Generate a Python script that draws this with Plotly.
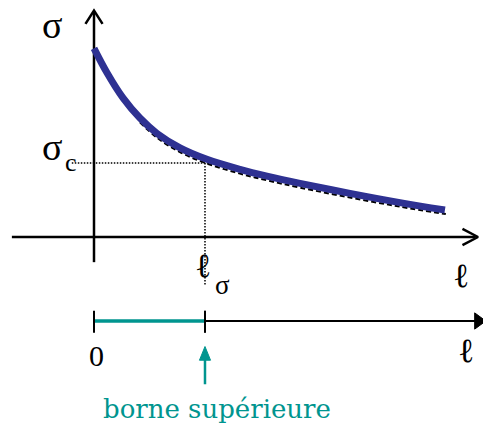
import plotly.graph_objects as go

# ---- data (units: length in multiples of l_sigma, stress in multiples of sigma_c) ----
ell = [0.0, 0.117, 0.261, 0.414, 0.568, 0.775, 1.018, 1.315, 1.568, 1.856, 2.306, 2.757, 3.162]
sigma = [2.55, 2.22, 1.88, 1.608, 1.40, 1.205, 1.05, 0.915, 0.82, 0.725, 0.59, 0.465, 0.365]

ell_asym = [0.414, 0.568, 0.775, 1.018, 1.315, 1.568, 1.856, 2.306, 2.757, 3.17]
sigma_asym = [1.55, 1.342, 1.147, 0.993, 0.857, 0.763, 0.668, 0.534, 0.41, 0.31]

ell_sigma = 1.0
sigma_c = 1.0
upper_bound = [0.0, ell_sigma]  # interval [0, l_sigma]

BLUE = "#2e3192"
TEAL = "#00958f"
FONT = "Liberation Serif"
SCRIPT = "DejaVu Serif"

fig = go.Figure()

def line(xs, ys, color="black", width=2.5, dash=None, shape="linear"):
    fig.add_trace(go.Scatter(x=xs, y=ys, mode="lines", hoverinfo="skip",
                             line=dict(color=color, width=width, dash=dash, shape=shape),
                             showlegend=False))

# axes of the upper chart
line([0, 0], [-0.34, 3.05])
line([-0.74, 3.44], [0, 0])
# chevron heads
line([-0.077, 0, 0.077], [2.88, 3.06, 2.88])
line([3.32, 3.46, 3.32], [0.11, 0, -0.11])

# dotted guides
line([-0.2, 1.12], [sigma_c, sigma_c], width=1.5, dash="1.5px,1.5px")
line([ell_sigma, ell_sigma], [sigma_c, -0.65], width=1.5, dash="1.5px,1.5px")

# curves
line(ell_asym, sigma_asym, color="black", width=2, dash="5px,3px", shape="spline")
line(ell, sigma, color=BLUE, width=7, shape="spline")

# lower number line
y_nl = -1.135
line([0.01, 3.46], [y_nl, y_nl], width=2.2)
fig.add_trace(go.Scatter(x=[3.43, 3.53, 3.43, 3.43], y=[y_nl + 0.11, y_nl, y_nl - 0.11, y_nl + 0.11],
                         mode="lines", fill="toself", fillcolor="black",
                         line=dict(color="black", width=1), hoverinfo="skip", showlegend=False))
line(upper_bound, [y_nl, y_nl], color=TEAL, width=3.5)
for xv in upper_bound:
    line([xv, xv], [y_nl + 0.14, y_nl - 0.16], width=2)

# teal arrow (upper bound marker)
line([ell_sigma, ell_sigma], [-1.99, -1.64], color=TEAL, width=2.5)
fig.add_trace(go.Scatter(x=[ell_sigma - 0.05, ell_sigma, ell_sigma + 0.05, ell_sigma - 0.05],
                         y=[-1.665, -1.48, -1.665, -1.665],
                         mode="lines", fill="toself", fillcolor=TEAL,
                         line=dict(color=TEAL, width=1), hoverinfo="skip", showlegend=False))

def text(x, y, s, size, color="black", family=FONT):
    fig.add_annotation(x=x, y=y, xref="x", yref="y", text=s, showarrow=False,
                       xanchor="center", yanchor="middle",
                       font=dict(family=family, size=size, color=color))

text(-0.378, 2.87, "σ", 38)
text(-0.378, 1.21, "σ", 38)
text(-0.21, 1.01, "c", 26)
text(0.98, -0.38, "ℓ", 34, family=SCRIPT)
text(1.16, -0.65, "σ", 27)
text(3.31, -0.52, "ℓ", 34, family=SCRIPT)
text(0.02, -1.60, "0", 30)
text(3.35, -1.53, "ℓ", 34, family=SCRIPT)
text(1.11, -2.33, "borne supérieure", 26, TEAL, family=SCRIPT)

fig.update_xaxes(range=[-0.847, 3.505], visible=False, fixedrange=True)
fig.update_yaxes(range=[-2.581, 3.203], visible=False, fixedrange=True)
fig.update_layout(width=483, height=428, autosize=False,
                  margin=dict(l=0, r=0, t=0, b=0),
                  plot_bgcolor="white", paper_bgcolor="white")

fig.write_html("out.html", config={"displayModeBar": False},
               post_script="document.body.style.margin='0';document.body.style.overflow='hidden';")
